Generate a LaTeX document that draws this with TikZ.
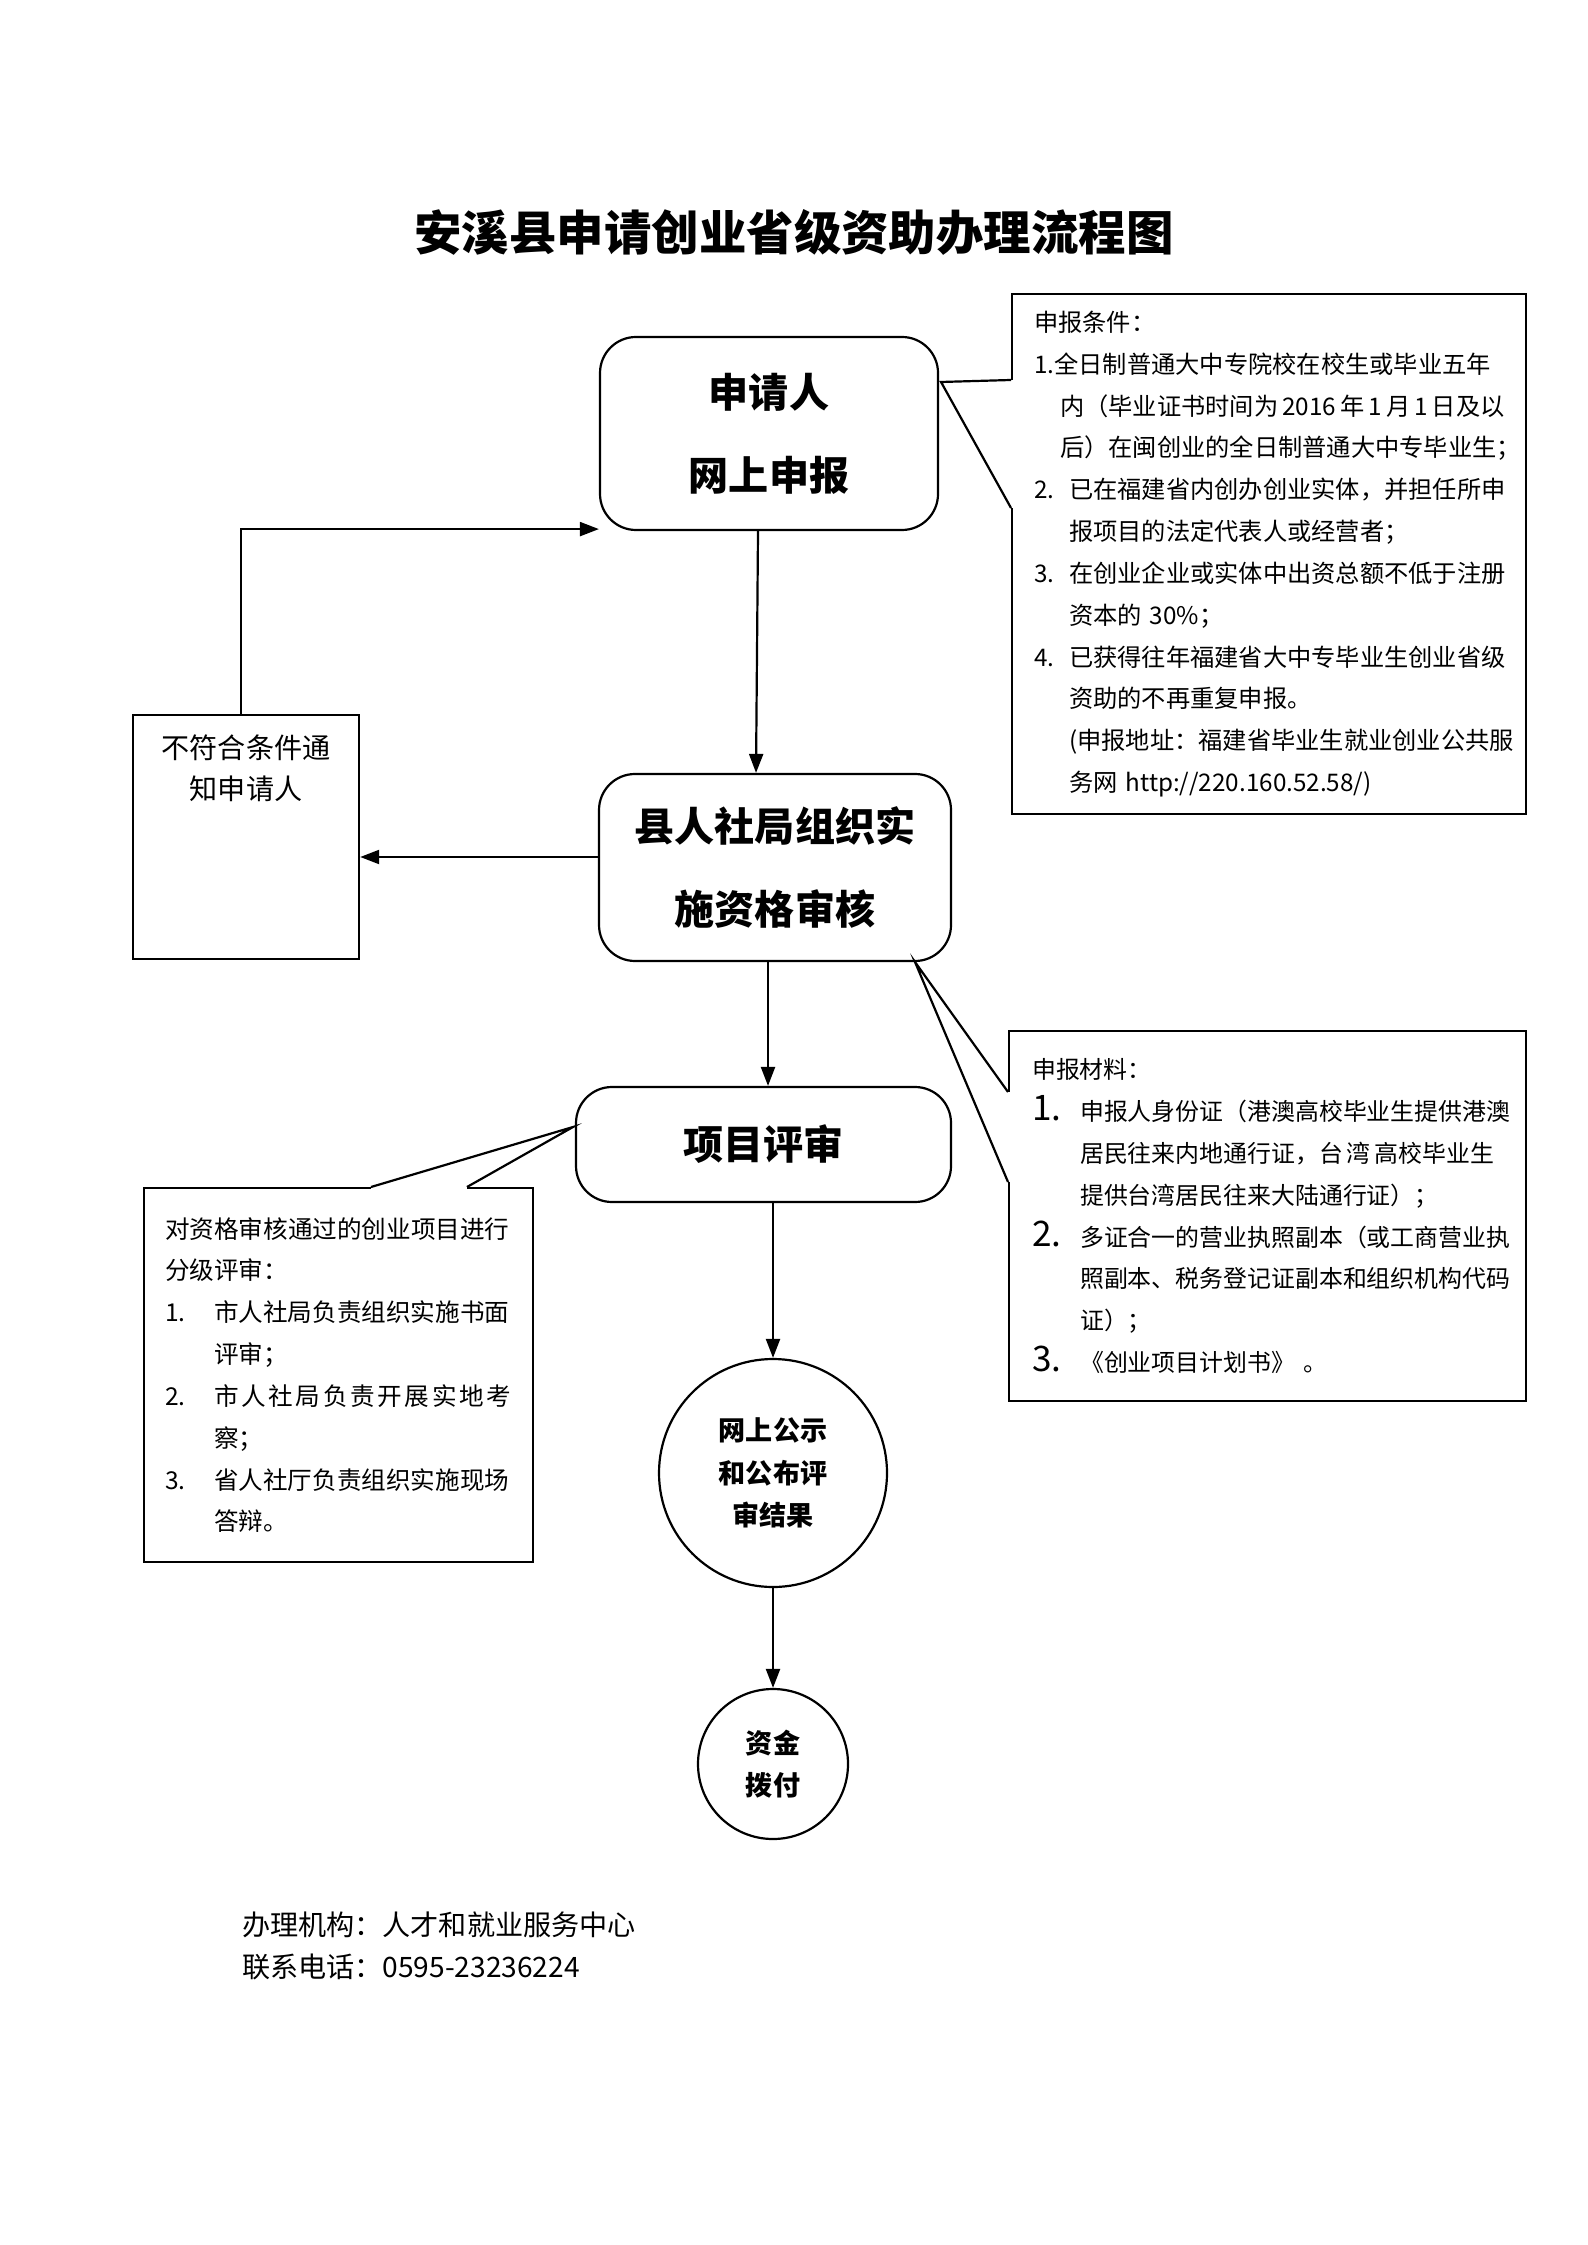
\documentclass[tikz,border=0pt]{standalone}
\usepackage{fontspec}
\setmainfont{Noto Sans CJK SC}
\usetikzlibrary{arrows.meta}

\begin{document}
\begin{tikzpicture}[x=0.1mm,y=-0.1mm,line width=0.22mm,
        flow/.style={draw, rounded corners=3.6mm, align=center, inner sep=0pt,
        font=\fontsize{11.4}{23.6}\selectfont\bfseries},
        note/.style={draw, anchor=north west, align=left, inner ysep=0pt,
        font=\fontsize{7}{11.9}\selectfont},
        round/.style={draw, circle, align=center, inner sep=0pt,
        font=\fontsize{7.7}{12.1}\selectfont\bfseries},
        arr/.style={-{Triangle[length=1.9mm,width=1.4mm]}}]
        \useasboundingbox (0,0) rectangle (1587,2245);
        \node[font=\fontsize{13.5}{16}\selectfont\bfseries] (title) at (794,232) {安溪县申请创业省级资助办理流程图};
        \node[flow, minimum width=33.8mm, minimum height=19.3mm] (apply) at (769,433.5) {申请人\\网上申报};
        \node[flow, minimum width=35.2mm, minimum height=18.7mm] (check) at (775,867.5) {县人社局组织实\\施资格审核};
        \node[flow, minimum width=37.5mm, minimum height=11.5mm] (review) at (763.5,1144.5) {项目评审};
        \node[draw, anchor=north west, minimum width=22.6mm, minimum height=24.4mm,
        label={[anchor=north, align=center, inner sep=0pt, yshift=-2mm, font=\fontsize{8}{11.7}\selectfont]north:不符合条件通\\知申请人}] (reject) at (132,714) {};
        \node[note, inner xsep=2.2mm, text width=47mm, minimum height=52mm,
        font=\fontsize{6.9}{11.9}\selectfont] (cond) at (1011,293) {申报条件：\\
        1.全日制普通大中专院校在校生或毕业五年\\
        \hspace*{2.6mm}内（毕业证书时间为\,2016\,年\,1\,月\,1\,日及以\\
        \hspace*{2.6mm}后）在闽创业的全日制普通大中专毕业生；\\
        \makebox[3.5mm][l]{2.}已在福建省内创办创业实体，并担任所申\\
        \hspace*{3.5mm}报项目的法定代表人或经营者；\\
        \makebox[3.5mm][l]{3.}在创业企业或实体中出资总额不低于注册\\
        \hspace*{3.5mm}资本的~30\%；\\
        \makebox[3.5mm][l]{4.}已获得往年福建省大中专毕业生创业省级\\
        \hspace*{3.5mm}资助的不再重复申报。\\
        \hspace*{3.5mm}(申报地址：福建省毕业生就业创业公共服\\
        \hspace*{3.5mm}务网~http://220.160.52.58/)};
        \node[note, inner xsep=2.3mm, text width=47.1mm, minimum height=37mm,
        font=\fontsize{6.8}{11.9}\selectfont] (mat) at (1008,1030) {申报材料：\\
        \makebox[4.8mm][l]{\fontsize{10}{11.9}\selectfont 1.}申报人身份证（港澳高校毕业生提供港澳\\
        \hspace*{4.8mm}居民往来内地通行证，台\,湾\,高校毕业生\\
        \hspace*{4.8mm}提供台湾居民往来大陆通行证）；\\
        \makebox[4.8mm][l]{\fontsize{10}{11.9}\selectfont 2.}多证合一的营业执照副本（或工商营业执\\
        \hspace*{4.8mm}照副本、税务登记证副本和组织机构代码\\
        \hspace*{4.8mm}证）；\\
        \makebox[4.8mm][l]{\fontsize{10}{11.9}\selectfont 3.}《创业项目计划书》\ 。};
        \node[note, inner xsep=2.1mm, text width=34.7mm, minimum height=37.4mm] (grade) at (143,1187) {对资格审核通过的创业项目进行\\
        分级评审：\\
        \makebox[4.9mm][l]{1.}市人社局负责组织实施书面\\
        \hspace*{4.9mm}评审；\\
        \makebox[4.9mm][l]{2.}\makebox[29.7mm][s]{市\hfill 人\hfill 社\hfill 局\hfill 负\hfill 责\hfill 开\hfill 展\hfill 实\hfill 地\hfill 考}\\
        \hspace*{4.9mm}察；\\
        \makebox[4.9mm][l]{3.}省人社厅负责组织实施现场\\
        \hspace*{4.9mm}答辩。};
        \node[round, minimum size=22.8mm] (pub) at (773,1473) {网上公示\\和公布评\\审结果};
        \node[round, minimum size=15mm] (fund) at (773,1764) {资金\\拨付};
        \node[anchor=west, align=left, inner sep=0pt, font=\fontsize{8}{12}\selectfont] (contact) at (241,1946) {办理机构：人才和就业服务中心\\联系电话：0595-23236224};
        \draw[arr] ([xshift=-1.1mm]apply.south) -- ([xshift=-1.9mm]check.north);
        \draw[arr] ([yshift=1.05mm]check.west) -- ([yshift=1.05mm]check.west -| reject.east);
        \draw[arr] ([xshift=-0.5mm]reject.north) |- ([yshift=0.2mm]apply.south west);
        \draw[arr] ([xshift=-0.7mm]check.south) -- ([xshift=-0.7mm]check.south |- review.north);
        \draw[arr] (review.south -| pub.north) -- (pub.north);
        \draw[arr] (pub.south) -- (fund.north);
        \coordinate (condtip) at (941,382);
        \coordinate (cond1) at ([yshift=-8.7mm]cond.north west);
        \coordinate (cond2) at ([yshift=-21.5mm]cond.north west);
        \coordinate (mattip) at (915,962);
        \coordinate (mat1) at ([yshift=-6.2mm]mat.north west);
        \coordinate (mat2) at ([yshift=-15.2mm]mat.north west);
        \coordinate (gradetip) at (573,1127);
        \coordinate (grade1) at ([xshift=22.8mm]grade.north west);
        \coordinate (grade2) at ([xshift=32.4mm]grade.north west);
        \draw[white, line width=0.4mm] (cond1) -- (cond2) (mat1) -- (mat2) (grade1) -- (grade2);
        \draw (cond1) -- (condtip) -- (cond2);
        \draw (mat1) -- (mattip) -- (mat2);
        \draw (grade1) -- (gradetip) -- (grade2);
    \end{tikzpicture}
\end{document}
